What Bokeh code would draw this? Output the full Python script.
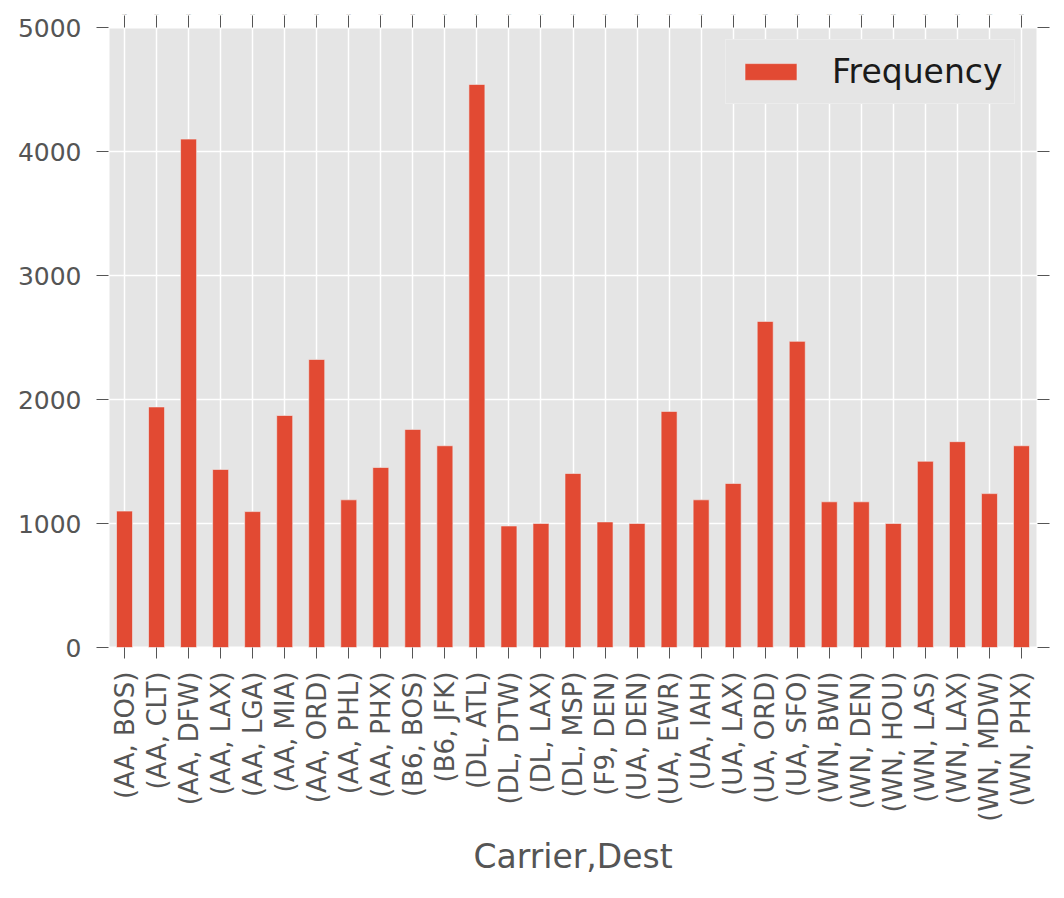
import math
from bokeh.plotting import figure
from bokeh.models import (FactorRange, Range1d, ColumnDataSource, CategoricalAxis,
                          LinearAxis, FixedTicker, Legend, LegendItem)
from bokeh.embed import file_html
from bokeh.resources import INLINE

carriers = ["AA"] * 9 + ["B6"] * 2 + ["DL"] * 4 + ["F9"] + ["UA"] * 6 + ["WN"] * 7
dests = ["BOS", "CLT", "DFW", "LAX", "LGA", "MIA", "ORD", "PHL", "PHX",
         "BOS", "JFK",
         "ATL", "DTW", "LAX", "MSP",
         "DEN",
         "DEN", "EWR", "IAH", "LAX", "ORD", "SFO",
         "BWI", "DEN", "HOU", "LAS", "LAX", "MDW", "PHX"]
frequency = [1100, 1940, 4100, 1436, 1096, 1871, 2323, 1191, 1452,
             1759, 1627,
             4541, 980, 1000, 1403,
             1013,
             1000, 1904, 1191, 1323, 2630, 2469,
             1175, 1175, 1000, 1502, 1660, 1241, 1627]
y_ticks = [0, 1000, 2000, 3000, 4000, 5000]
x_title = "Carrier,Dest"
series_name = "Frequency"

labels = [f"({c}, {d})" for c, d in zip(carriers, dests)]
source = ColumnDataSource(dict(label=labels, freq=frequency))

FONT = "DejaVu Sans"
GREY = "#555555"

p = figure(x_range=FactorRange(*labels), y_range=Range1d(0, 5000),
           frame_width=929, frame_height=620,
           min_border_left=108, min_border_top=27, min_border_right=16, min_border_bottom=5,
           output_backend="svg", toolbar_location=None)

p.background_fill_color = "#E5E5E5"
p.border_fill_color = "white"
p.outline_line_color = "white"
p.outline_line_width = 2

p.xgrid.grid_line_color = "white"
p.ygrid.grid_line_color = "white"
p.xgrid.grid_line_width = 1.5
p.ygrid.grid_line_width = 1.5
p.ygrid.ticker = FixedTicker(ticks=y_ticks)

r = p.vbar(x="label", top="freq", width=0.5, source=source,
           fill_color="#E24A33", line_color="#EEEEEE", line_width=1, line_alpha=0.6)

def style_axis(ax):
    ax.axis_line_color = None
    ax.major_tick_line_color = GREY
    ax.major_tick_line_width = 1
    ax.major_tick_in = 0
    ax.major_tick_out = 12
    ax.minor_tick_line_color = None
    ax.major_label_text_font = FONT
    ax.major_label_text_color = GREY

xa = p.xaxis[0]
style_axis(xa)
xa.major_tick_out = 11
xa.major_label_text_font_size = "26px"
xa.major_label_orientation = math.pi / 2
xa.major_label_standoff = 13
xa.axis_label = x_title
xa.axis_label_text_font = FONT
xa.axis_label_text_font_size = "33px"
xa.axis_label_text_font_style = "normal"
xa.axis_label_text_color = GREY
xa.axis_label_standoff = 12

ya = p.yaxis[0]
style_axis(ya)
ya.ticker = FixedTicker(ticks=y_ticks)
ya.major_label_text_font_size = "25px"
ya.major_label_standoff = 15

# tick marks only (no labels) on the top and right edges
top_ax = CategoricalAxis()
style_axis(top_ax)
top_ax.major_label_overrides = {lab: "" for lab in labels}
top_ax.major_label_standoff = 0
top_ax.major_label_text_font_size = "1px"
p.add_layout(top_ax, "above")

right_ax = LinearAxis(ticker=FixedTicker(ticks=y_ticks))
style_axis(right_ax)
right_ax.major_label_overrides = {t: "" for t in y_ticks}
right_ax.major_label_standoff = 0
right_ax.major_label_text_font_size = "1px"
p.add_layout(right_ax, "right")

legend = Legend(items=[LegendItem(label=series_name, renderers=[r])],
                location=(617, 543))
legend.background_fill_color = "#E5E5E5"
legend.background_fill_alpha = 1
legend.border_line_color = "#F4F4F4"
legend.border_line_width = 1.5
legend.padding = 12
legend.margin = 0
legend.spacing = 0
legend.glyph_width = 65
legend.glyph_height = 21
legend.label_standoff = 29
legend.label_text_font = FONT
legend.label_text_font_size = "33px"
legend.label_text_color = "#1a1a1a"
p.add_layout(legend, "center")

open("out.html", "w").write(file_html(p, INLINE))
